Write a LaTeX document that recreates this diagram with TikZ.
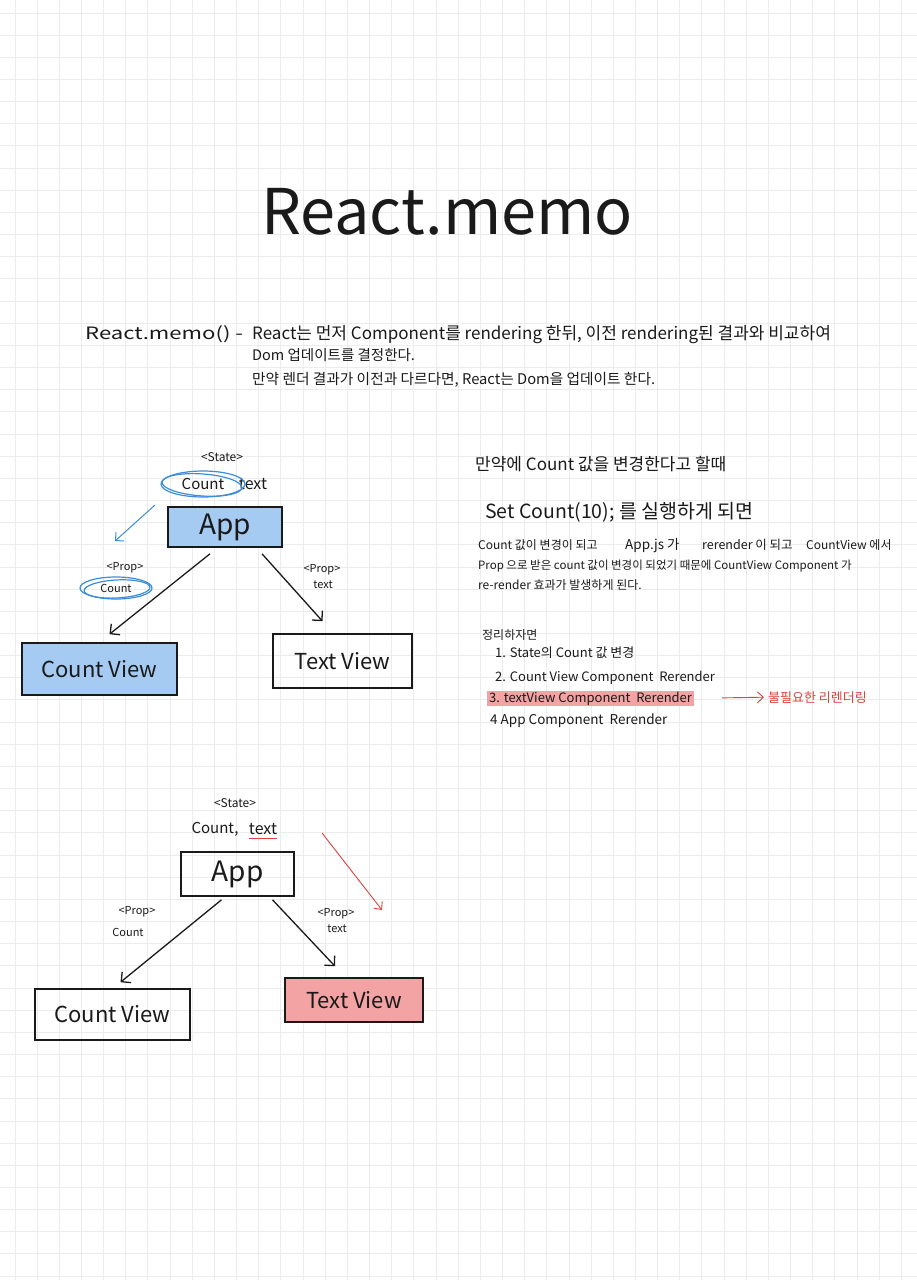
\documentclass[tikz,border=0pt]{standalone}
\usepackage{fontspec}
\setmainfont{Noto Sans CJK KR}
\usetikzlibrary{arrows.meta}
\definecolor{gridc}{HTML}{ECECEC}
\definecolor{bluehl}{HTML}{A6CBF2}
\definecolor{blueln}{HTML}{3C8EDB}
\definecolor{redhl}{HTML}{F3A3A3}
\definecolor{redln}{HTML}{D9443F}
\definecolor{ink}{HTML}{1A1A1A}
\newcommand\fsz[1]{\fontsize{#1}{#1}\selectfont}
\begin{document}
\begin{tikzpicture}[x=1pt,y=-1pt,
  every node/.style={inner sep=0pt, text=ink},
  gridline/.style={draw=gridc, line width=1pt},
  box/.style={draw=ink, line width=1.6pt},
  arr/.style={draw=ink, line width=1.3pt, -{Straight Barb[length=7pt,width=14pt]}},
  bluearr/.style={draw=blueln, line width=1pt, -{Straight Barb[length=6pt,width=12pt]}},
  redarr/.style={draw=redln, line width=0.9pt, -{Straight Barb[length=6pt,width=11pt]}},
  loop/.style={draw=blueln, line width=1.2pt},
  lw/.style={anchor=base west}
]
\fill[white] (0,0) rectangle (917,1280);
\useasboundingbox (0,0) rectangle (917,1280);
\foreach \i in {0,...,40} \draw[gridline] ({15+22.16*\i},0) -- ({15+22.16*\i},1280);
\foreach \j in {0,...,57} \draw[gridline] (0,{13+22.16*\j}) -- (917,{13+22.16*\j});

% title
\node[anchor=base, font=\fsz{63}] (title) at (447,234) {React.memo};

% description
\node[lw, font=\fsz{17}] (p0) at (85,339) {\scalebox{1.3}[1]{React.memo() -}};
\node[lw, font=\fsz{17}] (p1) at (252,339) {React는 먼저 Component를 rendering 한뒤, 이전 rendering된 결과와 비교하여};
\node[lw, font=\fsz{14.5}] (p2) at (252,360) {Dom 업데이트를 결정한다.};
\node[lw, font=\fsz{14.7}] (p3) at (252,384) {만약 렌더 결과가 이전과 다르다면, React는 Dom을 업데이트 한다.};

% diagram 1
\node[font=\fsz{12}] (s1) at (222,457) {<State>};
\node[font=\fsz{15}] (c1) at (203,484) {Count};
\node[font=\fsz{16}] (t1) at (253,484) {text};
\draw[loop] (c1.center) ellipse [x radius=42, y radius=13];
\draw[loop, rotate around={-4:(c1.center)}] ([shift={(-1,1)}]c1.center) ellipse [x radius=40, y radius=11];
\node[box, fill=bluehl, minimum width=114pt, minimum height=40pt, font=\fsz{28}] (app1) at (225,527) {App};
\coordinate (b1s) at (155,505);
\coordinate (b1e) at (115,541);
\draw[bluearr] (b1s) -- (b1e);
\node[font=\fsz{11}] (pp1) at (125,568) {<Prop>};
\node[font=\fsz{11}] (pc1) at (116,588) {Count};
\draw[loop] (pc1.center) ellipse [x radius=36, y radius=11];
\draw[loop, rotate around={3:(pc1.center)}] ([shift={(1,1)}]pc1.center) ellipse [x radius=33, y radius=9];
\node[font=\fsz{11}] (pp1r) at (322,570) {<Prop>};
\node[font=\fsz{11}] (pt1) at (323,585) {text};
\node[box, fill=bluehl, minimum width=155pt, minimum height=52pt, font=\fsz{22}] (cv1) at (99.5,669) {Count View};
\node[box, minimum width=139pt, minimum height=54pt, font=\fsz{22}] (tv1) at (342.5,661) {Text View};
\draw[arr] ([shift={(-15,6)}]app1.south) -- ([shift={(10,-8)}]cv1.north);
\draw[arr] ([shift={(37,6)}]app1.south) -- ([shift={(-20,-12)}]tv1.north);

% right side text
\node[lw, font=\fsz{17}] (r1) at (475,470) {만약에 Count 값을 변경한다고 할때};
\node[lw, font=\fsz{19.5}] (r2) at (485,518) {Set Count(10); 를 실행하게 되면};
\node[lw, font=\fsz{12}] (r3a) at (478,549) {Count 값이 변경이 되고};
\node[lw, font=\fsz{13.5}] (r3b) at (625,549) {App.js 가};
\node[lw, font=\fsz{12.5}] (r3c) at (702,549) {rerender 이 되고};
\node[lw, font=\fsz{12}] (r3d) at (806,549) {CountView 에서};
\node[lw, font=\fsz{11.5}] (r4) at (478,569) {Prop 으로 받은 count 값이 변경이 되었기 때문에 CountView Component 가};
\node[lw, font=\fsz{12}] (r5) at (478,589) {re-render 효과가 발생하게 된다.};
\node[lw, font=\fsz{12}] (r6) at (482,639) {정리하자면};
\node[lw, font=\fsz{13}] (i1) at (495,657) {1. State의 Count 값 변경};
\node[lw, font=\fsz{13}] (i2) at (495,681) {2. Count View Component\ \ Rerender};
\node[lw, font=\fsz{13}, fill=redhl, inner xsep=2pt, inner ysep=1pt] (i3) at (487,702) {3. textView Component\ \ Rerender};
\node[lw, font=\fsz{13.5}] (i4) at (490,724) {4 App Component\ \ Rerender};
\node[lw, font=\fsz{13}, text=redln] (un) at (768,702) {불필요한 리렌더링};
\draw[redarr, shorten <=28pt, shorten >=4pt] (i3.east) -- (un.west);

% diagram 2
\node[font=\fsz{12}] (s2) at (235,803) {<State>};
\node[font=\fsz{15}] (c2) at (215,829) {Count,};
\node[font=\fsz{16}] (t2) at (263,829) {text};
\draw[draw=redln, line width=1.2pt] ([yshift=-4pt]t2.south west) -- ([yshift=-4pt]t2.south east);
\node[box, minimum width=113pt, minimum height=44pt, font=\fsz{28}] (app2) at (237.5,874) {App};
\coordinate (r2s) at (322,833);
\coordinate (r2e) at (382,910);
\draw[redarr] (r2s) -- (r2e);
\node[font=\fsz{11}] (pp2) at (137,912) {<Prop>};
\node[font=\fsz{11}] (pc2) at (128,932) {Count};
\node[font=\fsz{11}] (pp2r) at (336,914) {<Prop>};
\node[font=\fsz{11}] (pt2) at (337,929) {text};
\node[box, minimum width=155pt, minimum height=51pt, font=\fsz{22}] (cv2) at (112.5,1014.5) {Count View};
\node[box, fill=redhl, minimum width=138pt, minimum height=44pt, font=\fsz{22}] (tv2) at (354,1000) {Text View};
\draw[arr] ([shift={(-16,3)}]app2.south) -- ([shift={(8,-6)}]cv2.north);
\draw[arr] ([shift={(35,3)}]app2.south) -- ([shift={(-19,-11)}]tv2.north);
\end{tikzpicture}
\end{document}
